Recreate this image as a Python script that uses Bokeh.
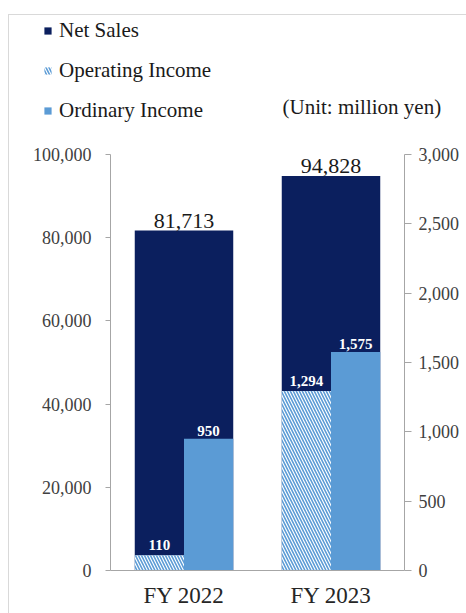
from bokeh.plotting import figure
from bokeh.models import (ColumnDataSource, FactorRange, Range1d, LinearAxis, FixedTicker,
                          NumeralTickFormatter, LabelSet, Label, Legend, LegendItem)
from bokeh.transform import dodge
from bokeh.embed import file_html
from bokeh.resources import INLINE

years = ["FY 2022", "FY 2023"]
net_sales = [81713, 94828]
operating_income = [110, 1294]
ordinary_income = [950, 1575]
left_ticks = [0, 20000, 40000, 60000, 80000, 100000]
right_ticks = [0, 500, 1000, 1500, 2000, 2500, 3000]
series_names = ["Net Sales", "Operating Income", "Ordinary Income"]
unit_text = "(Unit: million yen)"

NAVY = "#0b1f5e"
LIGHT = "#5b9bd5"
SERIF = "Liberation Serif"
AXIS_GRAY = "#a6a6a6"
FRAME = "1px solid #d9d9d9"
W = 458

src = ColumnDataSource(dict(
    x=years,
    ns=net_sales,
    op=operating_income,
    od=ordinary_income,
    ns_t=[f"{v:,}" for v in net_sales],
    op_t=[f"{v:,}" for v in operating_income],
    od_t=[f"{v:,}" for v in ordinary_income],
))

ns_style = dict(fill_color=NAVY, line_color=None)
op_style = dict(fill_color="white", line_color=None, hatch_pattern="\\", hatch_color=LIGHT,
                hatch_scale=6, hatch_weight=1.6)
od_style = dict(fill_color=LIGHT, line_color=None)

# ---------- header (legend + unit) ----------
h = figure(width=W, height=125, x_range=Range1d(0, W), y_range=Range1d(0, 125),
           output_backend="svg", toolbar_location=None, x_axis_location=None,
           y_axis_location=None, min_border=0)
h.outline_line_color = None
h.xgrid.visible = False
h.ygrid.visible = False
h.styles = {"margin-left": "8px", "margin-top": "14px",
            "border-left": FRAME, "border-top": FRAME}
# zero-size swatch carriers (nothing visible is drawn; they only feed the legend)
swatch = ColumnDataSource(dict(x=[0], top=[0]))
g1 = h.vbar(x="x", top="top", width=0, source=swatch, **ns_style)
g2 = h.vbar(x="x", top="top", width=0, source=swatch, **op_style)
g3 = h.vbar(x="x", top="top", width=0, source=swatch, **od_style)
legend = Legend(items=[LegendItem(label=series_names[0], renderers=[g1]),
                       LegendItem(label=series_names[1], renderers=[g2]),
                       LegendItem(label=series_names[2], renderers=[g3])],
                location=(34, 17))
legend.glyph_width = 9
legend.glyph_height = 9
legend.label_height = 24
legend.spacing = 15
legend.padding = 0
legend.margin = 0
legend.label_standoff = 7
legend.border_line_color = None
legend.background_fill_alpha = 0
legend.label_text_font = SERIF
legend.label_text_font_size = "21px"
legend.label_text_color = "#1a1a1a"
h.add_layout(legend)
h.add_layout(Label(x=273, y=34, x_units="screen", y_units="screen",
                   text=unit_text, text_font=SERIF, text_font_size="21px",
                   text_baseline="middle", text_color="#1a1a1a"))

# ---------- main chart ----------
p = figure(x_range=FactorRange(factors=years), y_range=Range1d(0, 100000),
           width=W, height=474, output_backend="svg", toolbar_location=None,
           min_border_left=101, min_border_right=63, min_border_top=15, min_border_bottom=43)
p.styles = {"margin-left": "8px", "border-left": FRAME}
p.extra_y_ranges = {"right": Range1d(0, 3000)}
p.outline_line_color = None
p.xgrid.visible = False
p.ygrid.visible = False

BW = 0.67
p.vbar(x="x", top="ns", width=BW, source=src, **ns_style)
p.vbar(x=dodge("x", -BW / 4, range=p.x_range), top="op", width=BW / 2, source=src,
       y_range_name="right", **op_style)
p.vbar(x=dodge("x", BW / 4, range=p.x_range), top="od", width=BW / 2, source=src,
       y_range_name="right", **od_style)

ya = p.yaxis[0]
ya.ticker = FixedTicker(ticks=left_ticks)
ya.formatter = NumeralTickFormatter(format="0,0")
ya.axis_line_color = AXIS_GRAY
ya.major_tick_line_color = AXIS_GRAY
ya.major_tick_out = 5
ya.major_tick_in = 0
ya.minor_tick_line_color = None
ya.major_label_standoff = 14
ya.major_label_text_font = SERIF
ya.major_label_text_font_size = "18px"
ya.major_label_text_color = "#404040"

ra = LinearAxis(y_range_name="right", ticker=FixedTicker(ticks=right_ticks),
                formatter=NumeralTickFormatter(format="0,0"))
ra.axis_line_color = AXIS_GRAY
ra.major_tick_line_color = AXIS_GRAY
ra.major_tick_out = 7
ra.major_tick_in = 0
ra.minor_tick_line_color = None
ra.major_label_standoff = 7
ra.major_label_text_font = SERIF
ra.major_label_text_font_size = "18px"
ra.major_label_text_color = "#404040"
p.add_layout(ra, "right")

xa = p.xaxis[0]
xa.axis_line_color = AXIS_GRAY
xa.major_tick_line_color = None
xa.major_tick_out = 0
xa.major_tick_in = 0
xa.major_label_standoff = 12
xa.major_label_text_font = SERIF
xa.major_label_text_font_size = "23px"
xa.major_label_text_color = "#262626"

p.add_layout(LabelSet(x="x", y="ns", text="ns_t", source=src, text_align="center",
                      text_baseline="bottom", y_offset=3, text_font=SERIF,
                      text_font_size="22px", text_color="#1a1a1a"))
p.add_layout(LabelSet(x=dodge("x", -BW / 4, range=p.x_range), y="op", text="op_t", source=src,
                      y_range_name="right", text_align="center", text_baseline="bottom",
                      y_offset=5, text_font=SERIF, text_font_size="15px",
                      text_font_style="bold", text_color="white"))
p.add_layout(LabelSet(x=dodge("x", BW / 4, range=p.x_range), y="od", text="od_t", source=src,
                      y_range_name="right", text_align="center", text_baseline="bottom",
                      y_offset=3, text_font=SERIF, text_font_size="15px",
                      text_font_style="bold", text_color="white"))

open("out.html", "w").write(file_html([h, p], INLINE))
